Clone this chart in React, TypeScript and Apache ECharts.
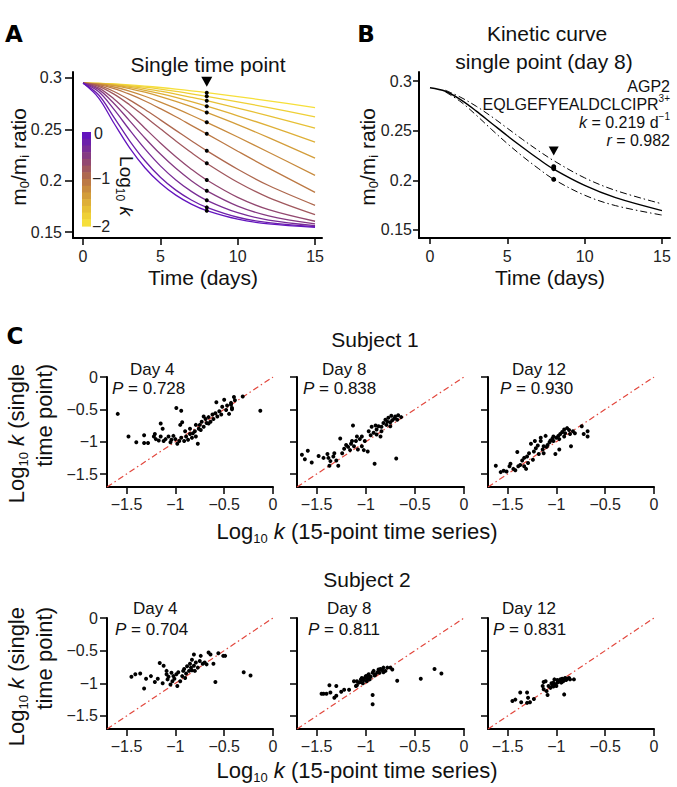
import React, { useEffect, useRef } from 'react';
import * as echarts from 'echarts';

const FONT = '"Liberation Sans", Arial, Helvetica, sans-serif';

// ---------- Panel A: simulated kinetic curves (log10 k from -2 to 0) ----------
const timeDays = [0, 1, 2, 3, 4, 5, 6, 7, 8, 10, 12, 15];
const ratioCurves = [
  [0.295, 0.2948, 0.2942, 0.2933, 0.2921, 0.2907, 0.2892, 0.2875, 0.2857, 0.2818, 0.2777, 0.2712],
  [0.295, 0.2947, 0.2939, 0.2926, 0.291, 0.2891, 0.287, 0.2846, 0.2821, 0.2768, 0.2711, 0.2621],
  [0.295, 0.2946, 0.2935, 0.2918, 0.2897, 0.2871, 0.2843, 0.2812, 0.2779, 0.2707, 0.2631, 0.2512],
  [0.295, 0.2945, 0.293, 0.2908, 0.288, 0.2847, 0.281, 0.2769, 0.2725, 0.2632, 0.2533, 0.2376],
  [0.295, 0.2943, 0.2925, 0.2897, 0.2861, 0.2819, 0.2772, 0.272, 0.2664, 0.2546, 0.2419, 0.222],
  [0.295, 0.294, 0.2912, 0.2872, 0.2822, 0.2765, 0.2703, 0.2637, 0.2568, 0.2425, 0.2277, 0.2051],
  [0.295, 0.2935, 0.2897, 0.2842, 0.2776, 0.2701, 0.2622, 0.2539, 0.2456, 0.2287, 0.2122, 0.1886],
  [0.295, 0.2927, 0.2868, 0.2787, 0.2693, 0.2592, 0.249, 0.2389, 0.2291, 0.2111, 0.1953, 0.176],
  [0.295, 0.2919, 0.2843, 0.274, 0.2624, 0.2505, 0.2387, 0.2274, 0.2169, 0.1985, 0.1836, 0.167],
  [0.295, 0.2904, 0.2796, 0.2658, 0.2511, 0.2367, 0.2233, 0.2112, 0.2006, 0.1837, 0.1718, 0.1605],
  [0.295, 0.2889, 0.2752, 0.2585, 0.2416, 0.2259, 0.212, 0.2, 0.1901, 0.1753, 0.1658, 0.1579],
  [0.295, 0.2868, 0.2694, 0.2496, 0.2309, 0.2144, 0.2007, 0.1896, 0.1809, 0.1688, 0.1617, 0.1563],
  [0.295, 0.2836, 0.2617, 0.2391, 0.2194, 0.2034, 0.1908, 0.1812, 0.174, 0.1644, 0.1591, 0.1553],
  [0.295, 0.2807, 0.2559, 0.2322, 0.2126, 0.1974, 0.1859, 0.1772, 0.1708, 0.1625, 0.1579, 0.1546],
];
const singleTimePoint = 8;
const arrowA = [8, 0.2962];
const curveColors = [
  '#F6DF3A', '#EFD036', '#E7C035', '#DEAF37', '#D39D3A', '#C88B3E', '#BC7944',
  '#AE684E', '#A0585E', '#924870', '#853A82', '#782C96', '#6C1FAA', '#6314BE',
];
const colorbarLabels = ['0', '−1', '−2'];

// ---------- Panel B: AGP2 peptide kinetic curve ----------
const bDays = [0, 1, 2, 3, 4, 5, 6, 7, 8, 10, 12, 15];
const bFit = [0.2933, 0.2897, 0.281, 0.2697, 0.2573, 0.2449, 0.2331, 0.2217, 0.2112, 0.1948, 0.1825, 0.1695];
const bBandDays = [1, 2, 3, 4, 5, 6, 7, 8, 10, 12, 15];
const bUpper = [0.2907, 0.2835, 0.2745, 0.264, 0.2525, 0.241, 0.23, 0.2198, 0.2025, 0.1898, 0.1763];
const bLower = [0.289, 0.279, 0.2655, 0.251, 0.237, 0.224, 0.212, 0.201, 0.185, 0.1745, 0.165];
const bMeasured = [[8, 0.2137], [8, 0.2118], [8, 0.201]];
const arrowB = [8, 0.2295];

// ---------- Panel C: log10 k single point vs 15-point series ----------
const s1Day4 = [
  [-1.59, -0.57], [-1.48, -0.92], [-1.4, -1.01], [-1.32, -0.9], [-1.32, -1.02], [-1.28, -1.02],
  [-1.22, -0.92], [-1.21, -0.88], [-1.2, -0.96], [-1.17, -0.98], [-1.15, -0.72], [-1.13, -0.8],
  [-1.15, -0.92], [-1.12, -0.99], [-1.1, -0.96], [-1.07, -0.92], [-1.05, -1.01], [-1.02, -0.91],
  [-1.0, -0.96], [-0.99, -0.48], [-0.94, -0.52], [-0.95, -0.74], [-0.93, -0.7], [-0.98, -1.03],
  [-0.96, -0.99], [-0.94, -0.94], [-0.91, -0.99], [-0.89, -0.92], [-0.87, -0.97], [-0.85, -0.88],
  [-0.83, -0.94], [-0.8, -0.84], [-0.79, -0.92], [-0.77, -1.03], [-0.76, -0.8], [-0.75, -0.74],
  [-0.73, -0.69], [-0.71, -0.77], [-0.69, -0.65], [-0.68, -0.71], [-0.66, -0.62], [-0.64, -0.69],
  [-0.62, -0.58], [-0.61, -0.65], [-0.59, -0.56], [-0.58, -0.39], [-0.57, -0.61], [-0.55, -0.53],
  [-0.53, -0.58], [-0.52, -0.46], [-0.5, -0.35], [-0.48, -0.51], [-0.47, -0.44], [-0.45, -0.57],
  [-0.43, -0.4], [-0.42, -0.48], [-0.39, -0.36], [-0.4, -0.31], [-0.71, -0.61], [-0.79, -0.74],
  [-0.85, -0.8], [-0.9, -0.84], [-1.04, -0.97], [-0.31, -0.3], [-0.13, -0.52], [-0.43, -0.43],
  [-0.42, -0.5], [-0.82, -0.87], [-0.74, -0.82], [-0.66, -0.72],
];
const s1Day8 = [
  [-1.65, -1.2], [-1.62, -1.27], [-1.59, -1.14], [-1.55, -1.32], [-1.48, -1.22], [-1.43, -1.25],
  [-1.39, -1.19], [-1.38, -1.25], [-1.36, -1.3], [-1.37, -1.37], [-1.33, -1.23], [-1.32, -1.18],
  [-1.3, -1.29], [-1.28, -1.37], [-1.26, -0.95], [-1.24, -1.18], [-1.22, -1.11], [-1.2, -1.05],
  [-1.18, -1.08], [-1.16, -1.13], [-1.15, -1.03], [-1.13, -0.75], [-1.12, -1.07], [-1.1, -0.99],
  [-1.09, -0.92], [-1.08, -1.12], [-1.06, -0.96], [-1.04, -1.07], [-1.02, -1.13], [-1.01, -0.99],
  [-0.98, -1.15], [-0.97, -0.84], [-0.95, -0.9], [-0.94, -0.77], [-0.92, -0.86], [-0.91, -1.34],
  [-0.9, -0.75], [-0.89, -0.81], [-0.87, -0.76], [-0.85, -0.92], [-0.84, -0.77], [-0.82, -0.71],
  [-0.8, -0.66], [-0.79, -0.74], [-0.78, -0.69], [-0.77, -0.63], [-0.75, -0.7], [-0.74, -0.6],
  [-0.73, -0.67], [-0.71, -0.64], [-0.7, -0.61], [-0.69, -1.26], [-0.68, -0.66], [-0.67, -0.59],
  [-0.64, -0.62], [-0.75, -0.76], [-0.84, -0.84], [-0.89, -0.89], [-1.04, -0.92], [-1.14, -0.99],
];
const s1Day12 = [
  [-1.62, -1.37], [-1.57, -1.47], [-1.54, -1.45], [-1.51, -1.46], [-1.48, -1.38], [-1.47, -1.34],
  [-1.44, -1.42], [-1.42, -1.44], [-1.4, -1.16], [-1.37, -1.36], [-1.35, -1.29], [-1.33, -1.25],
  [-1.31, -1.42], [-1.3, -1.23], [-1.28, -1.18], [-1.26, -1.03], [-1.24, -1.28], [-1.23, -1.15],
  [-1.21, -1.1], [-1.19, -1.06], [-1.18, -1.19], [-1.16, -0.99], [-1.14, -1.12], [-1.13, -1.07],
  [-1.11, -0.91], [-1.09, -1.05], [-1.07, -1.01], [-1.06, -0.98], [-1.04, -0.95], [-1.03, -0.92],
  [-1.01, -1.19], [-1.0, -0.94], [-0.98, -0.91], [-0.97, -1.12], [-0.96, -0.88], [-0.94, -0.85],
  [-0.92, -0.81], [-0.91, -0.87], [-0.89, -0.79], [-0.87, -0.82], [-0.86, -0.88], [-0.85, -1.07],
  [-0.83, -0.84], [-0.81, -0.87], [-0.74, -0.76], [-0.72, -0.88], [-0.68, -0.92], [-0.68, -0.84],
  [-1.22, -0.99], [-1.16, -0.94], [-1.1, -1.08], [-1.29, -1.33], [-1.33, -1.38], [-1.03, -0.99],
  [-0.97, -0.96], [-0.92, -0.92], [-1.13, -1.18], [-1.39, -1.38],
];
const s2Day4 = [
  [-1.45, -0.9], [-1.41, -0.86], [-1.36, -0.85], [-1.32, -1.08], [-1.3, -0.93], [-1.25, -0.89],
  [-1.21, -0.98], [-1.18, -0.93], [-1.16, -0.69], [-1.12, -0.73], [-1.13, -1.0], [-1.09, -0.86],
  [-1.07, -0.9], [-1.05, -1.02], [-1.04, -0.84], [-1.02, -0.89], [-1.01, -0.93], [-0.99, -0.86],
  [-0.98, -1.04], [-0.97, -0.83], [-0.95, -0.97], [-0.93, -0.89], [-0.92, -0.81], [-0.91, -0.78],
  [-0.89, -0.85], [-0.88, -0.74], [-0.86, -0.81], [-0.85, -0.7], [-0.84, -0.76], [-0.83, -0.8],
  [-0.81, -0.56], [-0.81, -0.73], [-0.79, -0.68], [-0.77, -0.76], [-0.75, -0.66], [-0.74, -0.58],
  [-0.72, -0.7], [-0.7, -0.68], [-0.68, -0.71], [-0.66, -0.53], [-0.64, -0.56], [-0.59, -0.98],
  [-0.56, -0.54], [-0.51, -0.58], [-0.49, -0.58], [-0.61, -0.7], [-1.08, -0.94], [-1.03, -0.97],
  [-1.09, -0.81], [-0.9, -0.92], [-0.8, -0.81], [-0.83, -0.64], [-0.3, -0.83], [-0.23, -0.88],
];
const s2Day8 = [
  [-1.45, -1.16], [-1.43, -1.16], [-1.4, -1.16], [-1.37, -1.03], [-1.36, -1.14], [-1.32, -1.22],
  [-1.3, -1.19], [-1.3, -1.04], [-1.25, -1.13], [-1.22, -1.1], [-1.17, -1.1], [-1.12, -0.97],
  [-1.1, -1.04], [-1.09, -1.03], [-1.07, -0.99], [-1.05, -0.94], [-1.04, -0.92], [-1.02, -0.95],
  [-1.0, -0.89], [-0.98, -0.93], [-0.97, -0.86], [-0.95, -0.9], [-0.93, -0.84], [-0.92, -0.81],
  [-0.9, -0.86], [-0.88, -0.83], [-0.87, -0.79], [-0.85, -0.78], [-0.83, -0.8], [-0.82, -0.76],
  [-0.8, -0.81], [-0.78, -0.76], [-0.75, -0.76], [-0.73, -0.79], [-0.68, -0.96], [-0.93, -1.18],
  [-0.93, -1.32], [-0.44, -0.93], [-0.3, -0.78], [-0.23, -0.85], [-1.05, -0.98], [-1.01, -0.92],
  [-0.98, -0.88], [-0.96, -0.94], [-0.91, -0.88], [-0.86, -0.84], [-0.82, -0.83], [-1.03, -1.0],
  [-0.99, -0.97], [-1.09, -0.97],
];
const s2Day12 = [
  [-1.45, -1.27], [-1.42, -1.25], [-1.37, -1.14], [-1.36, -1.29], [-1.3, -1.14], [-1.29, -1.22],
  [-1.3, -1.3], [-1.27, -1.29], [-1.23, -1.24], [-1.14, -1.04], [-1.13, -0.98], [-1.11, -0.97],
  [-1.1, -1.12], [-1.09, -1.18], [-1.08, -1.04], [-1.06, -1.07], [-1.04, -1.03], [-1.03, -0.99],
  [-1.02, -0.94], [-1.01, -1.02], [-1.0, -1.04], [-0.99, -0.99], [-0.97, -0.97], [-0.96, -0.94],
  [-0.96, -0.97], [-0.94, -0.93], [-0.92, -0.94], [-0.91, -0.92], [-0.89, -0.93], [-0.87, -0.92],
  [-0.86, -0.94], [-0.82, -0.94], [-0.92, -1.17], [-1.03, -1.05], [-0.99, -0.95], [-0.95, -0.99],
  [-0.93, -0.97], [-0.9, -0.95], [-1.05, -1.0], [-1.13, -1.09],
];
const identityLine = [[-1.7, -1.7], [0, 0]];
const cDays = ['Day 4', 'Day 8', 'Day 12', 'Day 4', 'Day 8', 'Day 12'];
const cPValues = ['0.728', '0.838', '0.930', '0.704', '0.811', '0.831'];
const cTicks = [-1.5, -1, -0.5, 0];

const minus = (v: number) => (v < 0 ? '\u2212' + String(Math.abs(v)) : String(v));

export default function App() {
  const ref = useRef<HTMLDivElement>(null);

  useEffect(() => {
    if (!ref.current) return;
    const chart = echarts.init(ref.current, undefined, { renderer: 'svg' });

    const cGrids = [
      { left: 107, top: 377, width: 166, height: 110 },
      { left: 297, top: 377, width: 167, height: 110 },
      { left: 488, top: 377, width: 166, height: 110 },
      { left: 107, top: 618, width: 166, height: 111 },
      { left: 297, top: 618, width: 167, height: 111 },
      { left: 488, top: 618, width: 166, height: 111 },
    ];
    const grids = [
      { left: 73, top: 72, width: 249, height: 166 },
      { left: 419, top: 72, width: 251, height: 166 },
      ...cGrids,
    ];

    const axisLineStyle = { show: true, onZero: false, lineStyle: { color: '#000', width: 2 } };
    const mkAxis = (
      gi: number, min: number, max: number, ticks: number[], fmt: (v: number) => string,
      showLabel: boolean, margin: number, tickLen: number,
    ) => ({
      gridIndex: gi, type: 'value', min, max,
      axisLine: axisLineStyle,
      axisTick: { show: true, length: tickLen, customValues: ticks, lineStyle: { color: '#000', width: 1.5 } },
      axisLabel: {
        show: showLabel, customValues: ticks, formatter: fmt, margin,
        fontFamily: FONT, fontSize: 16, color: '#222',
      },
      splitLine: { show: false },
    });

    const xAxes: any[] = [
      mkAxis(0, -0.65, 15.45, [0, 5, 10, 15], (v) => String(v), true, 10, 7),
      mkAxis(1, -0.71, 15.52, [0, 5, 10, 15], (v) => String(v), true, 10, 6),
    ];
    const yAxes: any[] = [
      mkAxis(0, 0.1442, 0.3058, [0.15, 0.2, 0.25, 0.3], (v) => String(v), true, 11, 8),
      mkAxis(1, 0.1419, 0.3091, [0.15, 0.2, 0.25, 0.3], (v) => String(v), true, 7, 6),
    ];
    cGrids.forEach((_, i) => {
      xAxes.push(mkAxis(i + 2, -1.7, 0, cTicks, minus, true, 9, 7));
      yAxes.push(mkAxis(i + 2, -1.7, 0, cTicks, minus, i % 3 === 0, 9, 7));
    });

    const dotStyle = { color: '#000', opacity: 1 };
    const series: any[] = [];
    ratioCurves.forEach((curve, ci) => {
      series.push({
        type: 'line', xAxisIndex: 0, yAxisIndex: 0, symbol: 'none', smooth: 0.35,
        data: timeDays.map((d, i) => [d, curve[i]]),
        lineStyle: { color: curveColors[ci], width: 1.3 }, z: 2,
      });
    });
    const idx8 = timeDays.indexOf(singleTimePoint);
    series.push({
      type: 'scatter', xAxisIndex: 0, yAxisIndex: 0, symbolSize: 4,
      data: ratioCurves.map((c) => [singleTimePoint, c[idx8]]),
      itemStyle: dotStyle, z: 4,
    });
    series.push({
      type: 'scatter', xAxisIndex: 0, yAxisIndex: 0, symbol: 'triangle', symbolRotate: 180,
      symbolSize: [11, 10], data: [arrowA], itemStyle: dotStyle, z: 4,
    });

    series.push({
      type: 'line', xAxisIndex: 1, yAxisIndex: 1, symbol: 'none', smooth: 0.35,
      data: bDays.map((d, i) => [d, bFit[i]]), lineStyle: { color: '#000', width: 1.4 },
    });
    series.push({
      type: 'line', xAxisIndex: 1, yAxisIndex: 1, symbol: 'none', smooth: 0.35,
      data: bBandDays.map((d, i) => [d, bUpper[i]]), lineStyle: { color: '#000', width: 1, type: [7, 3, 1.5, 3] },
    });
    series.push({
      type: 'line', xAxisIndex: 1, yAxisIndex: 1, symbol: 'none', smooth: 0.35,
      data: bBandDays.map((d, i) => [d, bLower[i]]), lineStyle: { color: '#000', width: 1, type: [7, 3, 1.5, 3] },
    });
    series.push({
      type: 'scatter', xAxisIndex: 1, yAxisIndex: 1, symbolSize: 5, data: bMeasured,
      itemStyle: dotStyle, z: 4,
    });
    series.push({
      type: 'scatter', xAxisIndex: 1, yAxisIndex: 1, symbol: 'triangle', symbolRotate: 180,
      symbolSize: [10, 9], data: [arrowB], itemStyle: dotStyle, z: 4,
    });

    [s1Day4, s1Day8, s1Day12, s2Day4, s2Day8, s2Day12].forEach((pts, i) => {
      series.push({
        type: 'line', xAxisIndex: i + 2, yAxisIndex: i + 2, symbol: 'none', data: identityLine,
        lineStyle: { color: '#E2473D', width: 1.2, type: [6, 3, 1.5, 3] }, z: 2,
      });
      series.push({
        type: 'scatter', xAxisIndex: i + 2, yAxisIndex: i + 2, symbolSize: 4, data: pts,
        itemStyle: dotStyle, z: 3,
      });
    });

    const base = { fontFamily: FONT, fill: '#111' };
    const T = (x: number, y: number, text: string, size: number, extra: any = {}, rot = 0) => ({
      type: 'text', x, y, rotation: rot, z: 10,
      style: { ...base, text, fontSize: size, align: 'center', verticalAlign: 'middle', ...extra },
    });
    const R = (x: number, y: number, text: string, rich: any, extra: any = {}, rot = 0) => ({
      type: 'text', x, y, rotation: rot, z: 10,
      style: { ...base, text, rich, align: 'center', verticalAlign: 'middle', ...extra },
    });
    const subRich = (size: number, sub: number) => ({
      a: { fontFamily: FONT, fontSize: size, lineHeight: size + 5, fill: '#111', verticalAlign: 'middle' },
      i: { fontFamily: FONT, fontSize: size, lineHeight: size + 5, fill: '#111', fontStyle: 'italic', verticalAlign: 'middle' },
      s: { fontFamily: FONT, fontSize: sub, lineHeight: sub, fill: '#111', verticalAlign: 'bottom' },
      p: { fontFamily: FONT, fontSize: sub, lineHeight: sub, fill: '#111', verticalAlign: 'top' },
    });

    const graphics: any[] = [];
    const letter = { fontFamily: '"DejaVu Sans", Arial', fontWeight: 900, fill: '#000' };
    graphics.push(T(14, 34, 'A', 23, letter));
    graphics.push(T(366, 34, 'B', 23, letter));
    graphics.push(T(15, 336, 'C', 23, letter));
    // Panel A
    graphics.push(T(208, 64, 'Single time point', 21));
    graphics.push(T(203, 277, 'Time (days)', 21));
    graphics.push(R(18, 157, '{a|m}{s|0}{a|/m}{s|i}{a| ratio}', subRich(21, 13), {}, Math.PI / 2));
    const cbTop = 132, cbH = 94, nBands = curveColors.length;
    for (let i = 0; i < nBands; i++) {
      graphics.push({
        type: 'rect', z: 9,
        shape: { x: 82, y: cbTop + (i * cbH) / nBands, width: 9, height: cbH / nBands + 0.6 },
        style: { fill: curveColors[nBands - 1 - i] },
      });
    }
    graphics.push(T(94, 133, colorbarLabels[0], 16, { align: 'left', fill: '#222' }));
    graphics.push(T(92, 178, colorbarLabels[1], 16, { align: 'left', fill: '#222' }));
    graphics.push(T(92, 226, colorbarLabels[2], 16, { align: 'left', fill: '#222' }));
    graphics.push(R(126, 186, '{a|Log}{s|10}{a| }{i|k}', subRich(19, 12), {}, -Math.PI / 2));
    // Panel B
    graphics.push(T(547, 33, 'Kinetic curve', 21));
    graphics.push(T(544, 61, 'single point (day 8)', 21));
    graphics.push(T(550, 277, 'Time (days)', 21));
    graphics.push(R(367, 157, '{a|m}{s|0}{a|/m}{s|i}{a| ratio}', subRich(21, 13), {}, Math.PI / 2));
    graphics.push(T(670, 86, 'AGP2', 16, { align: 'right' }));
    graphics.push(R(670, 104, '{a|EQLGEFYEALDCLCIPR}{p|3+}', subRich(16, 10), { align: 'right' }));
    graphics.push(R(670, 122, '{i|k}{a| = 0.219 d}{p|\u22121}', subRich(16, 10), { align: 'right' }));
    graphics.push(R(670, 140, '{i|r}{a| = 0.982}', subRich(16, 10), { align: 'right' }));
    // Panel C
    graphics.push(T(375, 339, 'Subject 1', 21));
    graphics.push(T(367, 579, 'Subject 2', 21));
    graphics.push(R(357, 531, '{a|Log}{s|10}{a| }{i|k}{a| (15-point time series)}', subRich(22, 13)));
    graphics.push(R(357, 770, '{a|Log}{s|10}{a| }{i|k}{a| (15-point time series)}', subRich(22, 13)));
    [364, 607].forEach((top) => {
      graphics.push(R(16, top, '{a|Log}{s|10}{a| }{i|k}{a| (single}', subRich(22, 13), { align: 'right' }, Math.PI / 2));
      graphics.push(R(44, top, '{a|time point)}', subRich(22, 13), { align: 'right' }, Math.PI / 2));
    });
    const dayPos = [
      [130, 369, 112, 388], [322, 369, 303, 388], [512, 369, 500, 388],
      [133, 608, 115, 629], [327, 608, 308, 629], [502, 608, 493, 629],
    ];
    dayPos.forEach((p, i) => {
      graphics.push(T(p[0], p[1], cDays[i], 17, { align: 'left' }));
      graphics.push(R(p[2], p[3], '{i|P}{a| = ' + cPValues[i] + '}', subRich(17, 11), { align: 'left' }));
    });

    chart.setOption({
      animation: false,
      backgroundColor: '#fff',
      grid: grids,
      xAxis: xAxes,
      yAxis: yAxes,
      series,
      graphic: graphics,
    });
    return () => chart.dispose();
  }, []);

  return <div ref={ref} style={{ position: 'fixed', left: 0, top: 0, width: 677, height: 787 }} />;
}
